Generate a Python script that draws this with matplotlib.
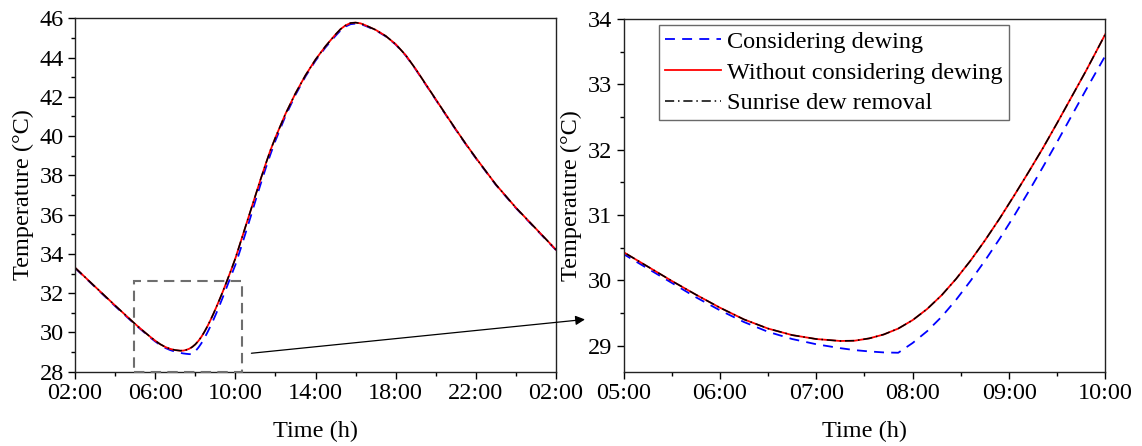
import numpy as np
import matplotlib
matplotlib.use('Agg')
import matplotlib.pyplot as plt
from matplotlib.ticker import MultipleLocator, FuncFormatter
from matplotlib.patches import Rectangle

plt.rcParams['font.family'] = ['Liberation Serif', 'DejaVu Serif']

# -----------------------------------------------------------------------------
# Data (time in hours, 26 = 02:00 next day)
# -----------------------------------------------------------------------------
hours = [2, 3, 4, 5, 5.25, 5.5, 5.75, 6, 6.25, 6.5, 6.75, 7, 7.25, 7.4, 7.55,
         7.7, 7.85, 8.0, 8.15, 8.3, 8.45, 8.6, 8.75, 8.9, 9.05, 9.2, 9.35,
         9.5, 9.65, 9.8, 9.9, 10, 10.25, 10.5, 10.75, 11, 11.25, 11.5, 11.75,
         12, 12.5, 13, 13.5, 14, 14.5, 15, 15.25, 15.5, 15.75, 16, 16.25,
         16.5, 17, 17.5, 18, 18.5, 19, 19.5, 20, 20.5, 21, 21.5, 22, 23, 24,
         25, 26]

t_dewing = [33.28, 32.31, 31.34, 30.40, 30.18, 29.96, 29.74, 29.54, 29.36,
            29.21, 29.10, 29.02, 28.96, 28.93, 28.91, 28.895, 28.89, 29.04,
            29.22, 29.44, 29.70, 29.99, 30.30, 30.63, 30.98, 31.35, 31.73,
            32.12, 32.52, 32.92, 33.18, 33.44, 34.22, 35.03, 35.85, 36.70,
            37.52, 38.32, 39.07, 39.77, 41.02, 42.10, 43.04, 43.84, 44.52,
            45.11, 45.38, 45.58, 45.70, 45.73, 45.70, 45.61, 45.39, 45.08,
            44.66, 44.10, 43.39, 42.62, 41.85, 41.08, 40.32, 39.58, 38.87,
            37.51, 36.33, 35.26, 34.19]

t_no_dewing = [33.30, 32.33, 31.37, 30.43, 30.21, 29.99, 29.78, 29.58, 29.40,
               29.26, 29.16, 29.10, 29.07, 29.075, 29.11, 29.17, 29.26, 29.39,
               29.56, 29.77, 30.02, 30.30, 30.61, 30.94, 31.29, 31.65, 32.02,
               32.41, 32.81, 33.21, 33.49, 33.77, 34.57, 35.37, 36.17, 36.97,
               37.77, 38.54, 39.28, 39.93, 41.13, 42.18, 43.10, 43.90, 44.58,
               45.18, 45.45, 45.64, 45.76, 45.78, 45.74, 45.64, 45.41, 45.10,
               44.68, 44.12, 43.41, 42.64, 41.87, 41.10, 40.34, 39.60, 38.89,
               37.53, 36.35, 35.28, 34.21]

t_sunrise = [33.30, 32.33, 31.37, 30.43, 30.21, 29.99, 29.78, 29.58, 29.40,
             29.26, 29.16, 29.10, 29.07, 29.075, 29.11, 29.17, 29.26, 29.39,
             29.56, 29.77, 30.02, 30.30, 30.61, 30.94, 31.29, 31.65, 32.02,
             32.41, 32.81, 33.21, 33.49, 33.77, 34.57, 35.37, 36.17, 36.97,
             37.77, 38.54, 39.28, 39.93, 41.13, 42.18, 43.10, 43.90, 44.58,
             45.18, 45.45, 45.64, 45.76, 45.78, 45.74, 45.64, 45.41, 45.10,
             44.68, 44.12, 43.41, 42.64, 41.87, 41.10, 40.34, 39.60, 38.89,
             37.53, 36.35, 35.28, 34.21]

labels = ['Considering dewing', 'Without considering dewing',
          'Sunrise dew removal']

# zoom window marked on the left panel
zoom_box = (4.92, 28.0, 10.32, 32.62)   # x0, y0, x1, y1

FS = 17.5


def hhmm(h, pos=None):
    hh = int(np.floor(h + 1e-6)) % 24
    mm = int(round((h - np.floor(h + 1e-6)) * 60))
    return f'{hh:02d}:{mm:02d}'


def draw_lines(ax):
    ax.plot(hours, t_dewing, color='#0000ff', lw=1.3, ls=(0, (5.5, 4)),
            label=labels[0])
    ax.plot(hours, t_no_dewing, color='#ff0000', lw=1.3, ls='-',
            label=labels[1])
    ax.plot(hours, t_sunrise, color='black', lw=1.1, ls=(0, (6, 2.5, 1, 2.5)),
            label=labels[2])


def style_axes(ax):
    ax.tick_params(which='major', direction='out', length=5, width=1,
                   labelsize=FS, pad=3)
    ax.tick_params(which='minor', direction='out', length=3, width=1)
    for s in ax.spines.values():
        s.set_linewidth(1.0)
        s.set_color('#222222')
    ax.xaxis.set_major_formatter(FuncFormatter(hhmm))
    ax.set_xlabel('Time (h)', fontsize=FS, labelpad=12)
    ax.set_ylabel('Temperature (\u00b0C)', fontsize=FS, labelpad=4)


fig = plt.figure(figsize=(11.42, 4.46), dpi=100)
ax1 = fig.add_axes([0.0657, 0.1666, 0.4212, 0.7924])
ax2 = fig.add_axes([0.5460, 0.1666, 0.4220, 0.7910])

# ---- left: full day
draw_lines(ax1)
ax1.set_xlim(2, 26)
ax1.set_ylim(28, 46)
ax1.xaxis.set_major_locator(MultipleLocator(4, offset=2))
ax1.xaxis.set_minor_locator(MultipleLocator(2))
ax1.yaxis.set_major_locator(MultipleLocator(2))
ax1.yaxis.set_minor_locator(MultipleLocator(1))
style_axes(ax1)
x0, y0, x1, y1 = zoom_box
ax1.add_patch(Rectangle((x0, y0), x1 - x0, y1 - y0, fill=False,
                        edgecolor='#6e6e6e', lw=1.5, ls=(0, (5, 3)),
                        clip_on=False, zorder=5))

# ---- right: zoom on the sunrise period
draw_lines(ax2)
ax2.set_xlim(5, 10)
ax2.set_ylim(28.6, 34)
ax2.xaxis.set_major_locator(MultipleLocator(1))
ax2.xaxis.set_minor_locator(MultipleLocator(0.5))
ax2.yaxis.set_major_locator(MultipleLocator(1))
ax2.yaxis.set_minor_locator(MultipleLocator(0.5))
style_axes(ax2)

leg = ax2.legend(loc='upper left', bbox_to_anchor=(0.074, 0.983),
                 borderaxespad=0, fontsize=FS, frameon=True, fancybox=False,
                 handlelength=2.3, handletextpad=0.25, labelspacing=0.35,
                 borderpad=0.25)
leg.get_frame().set_edgecolor('#444444')
leg.get_frame().set_linewidth(1.0)

# arrow from the zoom box to the right panel
ax2.annotate('', xy=(4.6, 29.4), xycoords=ax2.transData,
             xytext=(10.80, 28.94), textcoords=ax1.transData,
             arrowprops=dict(arrowstyle='-|>', color='black', lw=0.9,
                             mutation_scale=14, shrinkA=0, shrinkB=0),
             annotation_clip=False)

fig.savefig('out.png', dpi=100)
